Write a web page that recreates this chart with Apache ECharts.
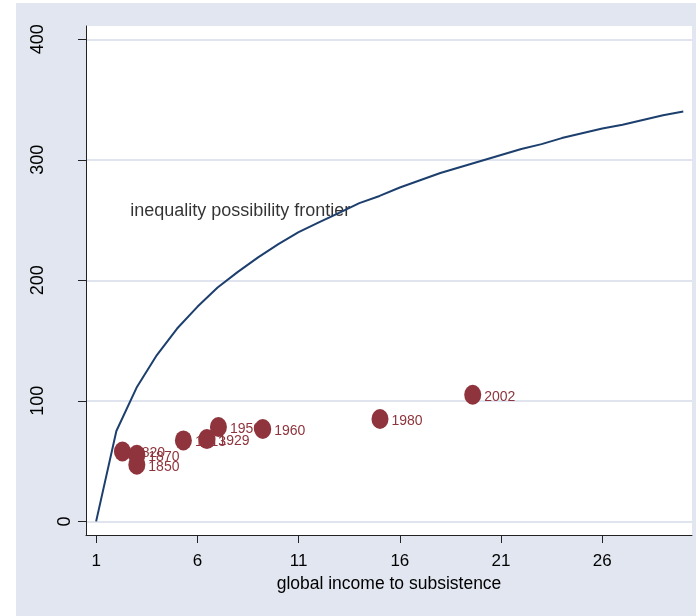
<!DOCTYPE html>
<html>
<head>
<meta charset="utf-8">
<script src="https://cdn.jsdelivr.net/npm/echarts@6/dist/echarts.min.js"></script>
<style>
html,body{margin:0;padding:0;background:#ffffff;width:696px;height:616px;overflow:hidden;}
#chart{position:absolute;left:16px;top:3px;width:680px;height:613px;}
</style>
</head>
<body>
<div id="chart"></div>
<script>
// ---- data ----
var years = ['1820', '1850', '1870', '1913', '1929', '1950', '1960', '1980', '2002'];
var incomeRatio = [2.30, 3.01, 3.01, 5.31, 6.47, 7.04, 9.23, 15.02, 19.6];
var inequality = [58.0, 47.0, 55.3, 67.2, 68.3, 78.3, 76.6, 84.9, 105.1];

var frontierX = [1, 2, 3, 4, 5, 6, 7, 8, 9, 10, 11, 12, 13, 14, 15, 16, 17, 18, 19, 20, 21, 22, 23, 24, 25, 26, 27, 28, 29, 30];
var frontierY = [0, 75, 111, 138, 160, 178, 194, 207, 219, 230, 240, 248, 256, 264, 270, 277, 283, 289, 294, 299, 304, 309, 313, 318, 322, 326, 329, 333, 337, 340];

var xTicks = [1, 6, 11, 16, 21, 26];
var yTicks = [0, 100, 200, 300, 400];
var annotation = {text: 'inequality possibility frontier', x: 2.68, y: 257.6};
var xTitle = 'global income to subsistence';

// ---- styles ----
var SANS = '"Liberation Sans", Arial, Helvetica, sans-serif';
var MAROON = '#8f343c';
var NAVY = '#1d3f6e';
var GRIDC = '#dfe4ee';

var chart = echarts.init(document.getElementById('chart'), null, {renderer: 'canvas'});

var frontierData = frontierX.map(function (x, i) { return [x, frontierY[i]]; });

var series = [];
series.push({
  type: 'line',
  data: frontierData,
  showSymbol: false,
  symbol: 'none',
  lineStyle: {color: NAVY, width: 2},
  z: 5,
  silent: true
});
series.push({
  type: 'scatter',
  data: [[annotation.x, annotation.y]],
  symbolSize: 0,
  z: 4,
  silent: true,
  label: {
    show: true,
    position: 'right',
    distance: 0,
    formatter: annotation.text,
    fontFamily: SANS,
    fontSize: 18,
    color: '#000000'
  }
});
years.forEach(function (yr, i) {
  series.push({
    type: 'scatter',
    data: [[incomeRatio[i], inequality[i]]],
    symbol: 'circle',
    symbolSize: [17, 20],
    itemStyle: {color: MAROON, opacity: 1},
    z: 10 + i,
    silent: true,
    label: {
      show: true,
      position: 'right',
      distance: 3,
      offset: [0, 2],
      formatter: yr,
      fontFamily: SANS,
      fontSize: 14,
      color: MAROON
    }
  });
});

chart.setOption({
  animation: false,
  backgroundColor: '#e1e6f0',
  grid: {
    left: 70, right: 4, top: 23, bottom: 81,
    show: true, backgroundColor: '#ffffff', borderWidth: 0,
    containLabel: false
  },
  xAxis: {
    type: 'value',
    min: 0.5, max: 30.43,
    name: xTitle,
    nameLocation: 'middle',
    nameGap: 37,
    nameTextStyle: {fontFamily: SANS, fontSize: 17.5, color: '#000000'},
    axisLine: {show: true, onZero: false, lineStyle: {color: '#222222', width: 1}},
    axisTick: {show: true, length: 8, customValues: xTicks, lineStyle: {color: '#222222', width: 1}},
    axisLabel: {show: true, customValues: xTicks, margin: 18, fontFamily: SANS, fontSize: 17, color: '#000000'},
    splitLine: {show: false}
  },
  yAxis: [{
    type: 'value',
    min: -11.3, max: 411,
    position: 'left',
    axisLine: {show: true, onZero: false, lineStyle: {color: '#222222', width: 1}},
    axisTick: {show: true, length: 8, customValues: yTicks, lineStyle: {color: '#222222', width: 1}},
    axisLabel: {show: true, customValues: [100, 200, 300, 400], rotate: 90, margin: 39, fontFamily: SANS, fontSize: 18, color: '#000000'},
    splitLine: {show: true, lineStyle: {color: GRIDC, width: 2}}
  }, {
    type: 'value',
    min: -11.3, max: 411,
    position: 'left',
    axisLine: {show: false},
    axisTick: {show: false},
    axisLabel: {show: true, customValues: [0], rotate: 90, margin: 12, fontFamily: SANS, fontSize: 18, color: '#000000'},
    splitLine: {show: false}
  }],
  series: series
});
</script>
</body>
</html>
